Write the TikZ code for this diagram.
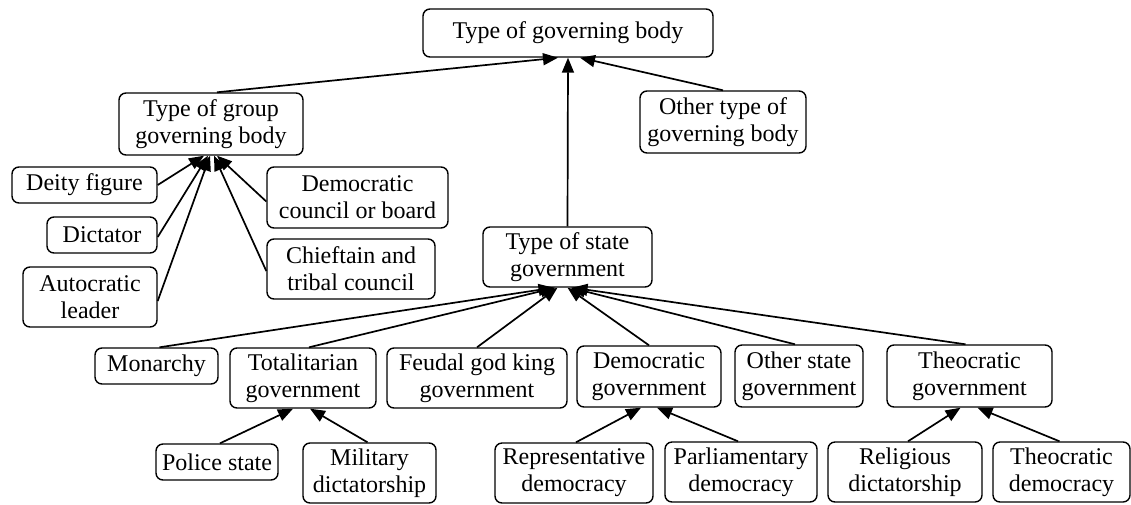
\documentclass[tikz,border=0pt]{standalone}
\usepackage{fontspec}
\setmainfont{Liberation Serif}
\usetikzlibrary{arrows.meta}
\begin{document}
\begin{tikzpicture}[x=1pt,y=-1pt,
  box/.style={draw, line width=1.4pt, rounded corners=7pt, inner sep=1pt,
    align=center, font=\fontsize{24}{27}\selectfont},
  arr/.style={line width=1.7pt, -{Triangle[length=15pt,width=12pt]}}]
\useasboundingbox (0,0) rectangle (1131,504);
% nodes: center and size in pixels
\node[box, minimum width=290, minimum height=48] (top) at (568,33) {Type of governing body};
\node[box, minimum width=184, minimum height=62] (group) at (211,124) {Type of group\\governing body};
\node[box, minimum width=166, minimum height=62] (other) at (723,122) {Other type of\\governing body};
\node[box, minimum width=145, minimum height=36] (deity) at (84.5,185) {Deity figure};
\node[box, minimum width=110, minimum height=36] (dictator) at (102,235) {Dictator};
\node[box, minimum width=134, minimum height=60] (autocratic) at (90,297) {Autocratic\\leader};
\node[box, minimum width=181, minimum height=61] (council) at (357.5,197.5) {Democratic\\council or board};
\node[box, minimum width=168, minimum height=60] (chieftain) at (351,269) {Chieftain and\\tribal council};
\node[box, minimum width=169, minimum height=60] (state) at (567.5,257) {Type of state\\government};
\node[box, minimum width=123, minimum height=36] (monarchy) at (156.5,366) {Monarchy};
\node[box, minimum width=146, minimum height=60] (totalitarian) at (303,378) {Totalitarian\\government};
\node[box, minimum width=180, minimum height=60] (feudal) at (477,378) {Feudal god king\\government};
\node[box, minimum width=144, minimum height=61] (demgov) at (649,376.5) {Democratic\\government};
\node[box, minimum width=128, minimum height=62] (otherstate) at (799,376) {Other state\\government};
\node[box, minimum width=165, minimum height=62] (theogov) at (969.5,376) {Theocratic\\government};
\node[box, minimum width=122, minimum height=36] (police) at (217,462) {Police state};
\node[box, minimum width=133, minimum height=60] (military) at (369.5,473) {Military\\dictatorship};
\node[box, minimum width=158, minimum height=60] (repdem) at (574,473) {Representative\\democracy};
\node[box, minimum width=152, minimum height=60] (parldem) at (741,472) {Parliamentary\\democracy};
\node[box, minimum width=154, minimum height=60] (religious) at (905,472) {Religious\\dictatorship};
\node[box, minimum width=137, minimum height=60] (theodem) at (1061.5,472) {Theocratic\\democracy};
% connectors to top
\draw[arr] ([xshift=6]group.north) -- ([xshift=-10]top.south);
\draw[arr] (state.north) -- (top.south);
\draw[arr] (other.north) -- ([xshift=12]top.south);
% group children
\draw[arr] (deity.east) -- ([xshift=-7]group.south);
\draw[arr] ([yshift=-2]dictator.east) -- ([xshift=-3]group.south);
\draw[arr] ([yshift=-4]autocratic.east) -- ([xshift=-1]group.south);
\draw[arr] ([yshift=-4]council.west) -- ([xshift=6]group.south);
\draw[arr] ([yshift=-2]chieftain.west) -- ([xshift=3]group.south);
% state children
\draw[arr] ([xshift=3]monarchy.north) -- ([xshift=-14]state.south);
\draw[arr] ([xshift=6]totalitarian.north) -- ([xshift=-12]state.south);
\draw[arr] (feudal.north) -- ([xshift=-10]state.south);
\draw[arr] (demgov.north) -- ([xshift=0]state.south);
\draw[arr] ([xshift=-4]otherstate.north) -- ([xshift=3]state.south);
\draw[arr] ([xshift=-4]theogov.north) -- ([xshift=5]state.south);
% lower children
\draw[arr] ([xshift=3]police.north) -- ([xshift=-10]totalitarian.south);
\draw[arr] ([xshift=-2]military.north) -- ([xshift=7]totalitarian.south);
\draw[arr] ([xshift=2]repdem.north) -- ([xshift=-8]demgov.south);
\draw[arr] ([xshift=-3]parldem.north) -- ([xshift=8]demgov.south);
\draw[arr] ([xshift=3]religious.north) -- ([xshift=-9]theogov.south);
\draw[arr] ([xshift=-2]theodem.north) -- ([xshift=8]theogov.south);
\end{tikzpicture}
\end{document}
